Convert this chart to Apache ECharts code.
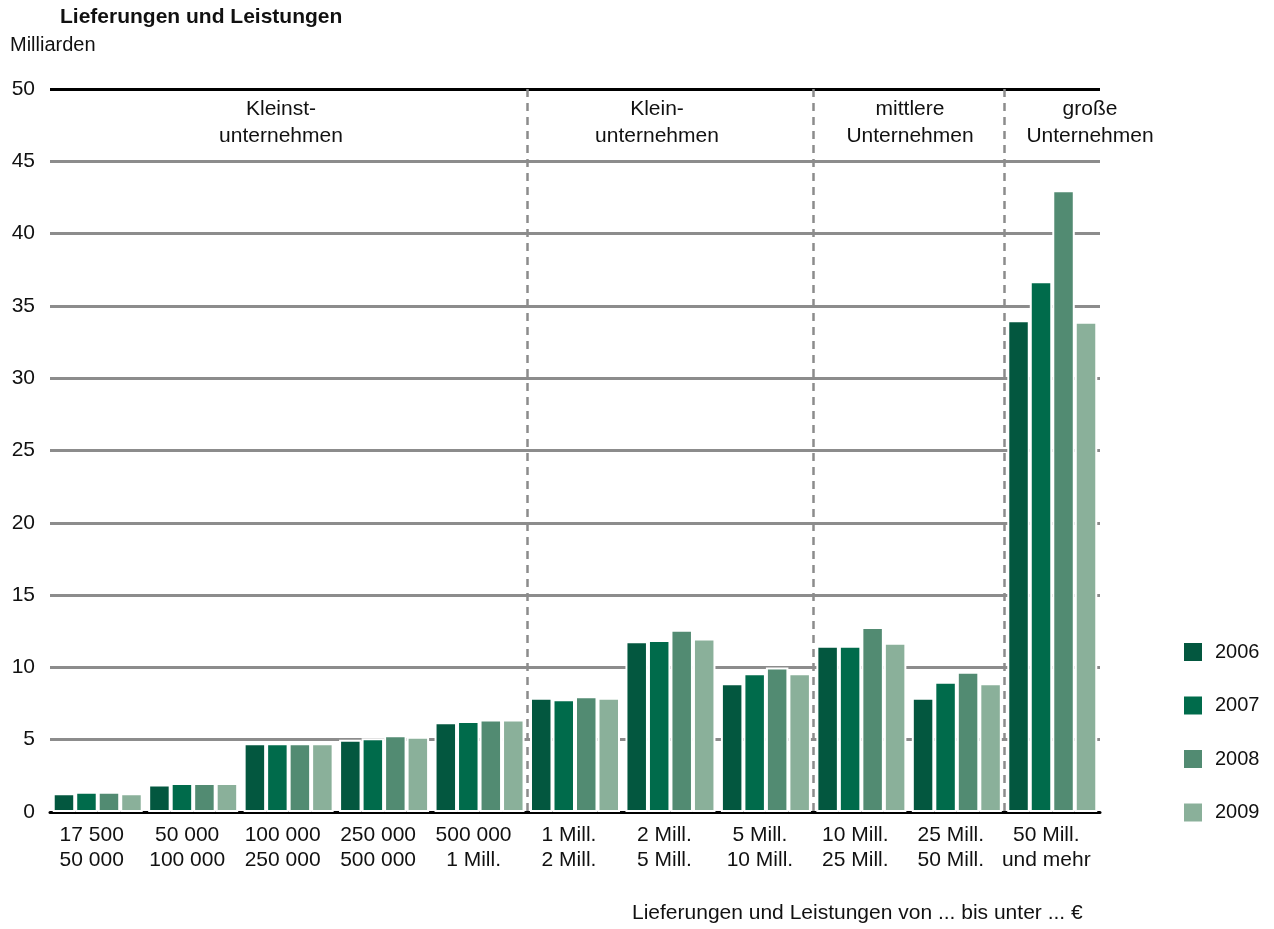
<!DOCTYPE html>
<html>
<head>
<meta charset="utf-8">
<script src="https://cdn.jsdelivr.net/npm/echarts@6/dist/echarts.min.js"></script>
<style>
  html, body { margin: 0; padding: 0; background: #fff; }
  #main { width: 1274px; height: 929px; }
</style>
</head>
<body>
<div id="main"></div>
<script>
// Größenklassen (Lieferungen und Leistungen von ... bis unter ... €)
var categories = [
    '17 500\n50 000', '50 000\n100 000', '100 000\n250 000', '250 000\n500 000',
    '500 000\n1 Mill.', '1 Mill.\n2 Mill.', '2 Mill.\n5 Mill.', '5 Mill.\n10 Mill.',
    '10 Mill.\n25 Mill.', '25 Mill.\n50 Mill.', '50 Mill.\nund mehr'
];
var years = ['2006', '2007', '2008', '2009'];
var colors = ['#03573f', '#006b4b', '#528b72', '#8ab09a'];

// Milliarden Euro
var data2006 = [1.3, 1.9, 4.75, 5.0, 6.2, 7.9, 11.8, 8.9, 11.5, 7.9, 34.0];
var data2007 = [1.4, 2.0, 4.75, 5.1, 6.3, 7.8, 11.9, 9.6, 11.5, 9.0, 36.7];
var data2008 = [1.4, 2.0, 4.75, 5.3, 6.4, 8.0, 12.6, 10.0, 12.8, 9.7, 43.0];
var data2009 = [1.3, 2.0, 4.75, 5.2, 6.4, 7.9, 12.0, 9.6, 11.7, 8.9, 33.9];
var seriesData = [data2006, data2007, data2008, data2009];

// Unternehmensgruppen: Trennlinien vor Kategorie-Index
var groupNames = ['Kleinst-\nunternehmen', 'Klein-\nunternehmen', 'mittlere\nUnternehmen', 'große\nUnternehmen'];
var groupBreaks = [5, 8, 10];

var yTicks = [0, 5, 10, 15, 20, 25, 30, 35, 40, 45, 50];

var font = 'Liberation Sans, Arial, sans-serif';
var myChart = echarts.init(document.getElementById('main'));

var serdata = [];
for (var i = 0; i < years.length; i++) {
    serdata.push({
        name: years[i],
        type: 'bar',
        barWidth: 22.5,
        barGap: '0%',
        itemStyle: {
            color: colors[i],
            borderColor: '#fff',
            borderWidth: 2
        },
        data: seriesData[i]
    });
}

var gridColors = yTicks.map(function (v, i) {
    return i === yTicks.length - 1 ? '#000' : '#8c8c8c';
});

var groupX = [281, 657, 910, 1090];
var graphics = [
    {type: 'text', left: 60, top: 7, style: {text: 'Lieferungen und Leistungen', font: 'bold 21px ' + font, fill: '#111'}},
    {type: 'text', left: 10, top: 35, style: {text: 'Milliarden', font: '20px ' + font, fill: '#111'}},
    {type: 'text', left: 632, top: 903, style: {text: 'Lieferungen und Leistungen von ... bis unter ... €', font: '21px ' + font, fill: '#111'}}
];
for (var g = 0; g < groupNames.length; g++) {
    graphics.push({
        type: 'text', x: groupX[g], y: 96,
        style: {text: groupNames[g], font: '21px ' + font, fill: '#111', align: 'center', lineHeight: 27}
    });
}

var option = {
    animation: false,
    backgroundColor: '#fff',
    textStyle: {fontFamily: font},
    grid: {left: 50, right: 174, top: 89, bottom: 117, containLabel: false},
    legend: {
        orient: 'vertical',
        left: 1177,
        top: 636,
        itemWidth: 20,
        itemHeight: 20,
        itemGap: 31.5,
        icon: 'rect',
        textStyle: {fontSize: 20, color: '#111', padding: [0, 0, 0, 7]},
        data: years
    },
    xAxis: {
        type: 'category',
        data: categories,
        axisLine: {lineStyle: {color: '#000', width: 3}},
        axisTick: {show: false},
        axisLabel: {
            interval: 0,
            padding: [0, 12, 0, 0],
            margin: 11,
            fontSize: 21,
            lineHeight: 25,
            color: '#111'
        },
        splitLine: {
            show: true,
            showMaxLine: false,
            interval: function (index) {
                return groupBreaks.indexOf(index) >= 0;
            },
            lineStyle: {color: '#8c8c8c', width: 2.5, type: [8, 6]}
        }
    },
    yAxis: {
        type: 'value',
        min: 0,
        max: 50,
        interval: 5,
        axisLine: {show: false},
        axisTick: {show: false},
        axisLabel: {fontSize: 21, color: '#111', margin: 15},
        splitLine: {lineStyle: {color: gridColors, width: 3}}
    },
    graphic: graphics,
    series: serdata
};
myChart.setOption(option);
</script>
</body>
</html>
